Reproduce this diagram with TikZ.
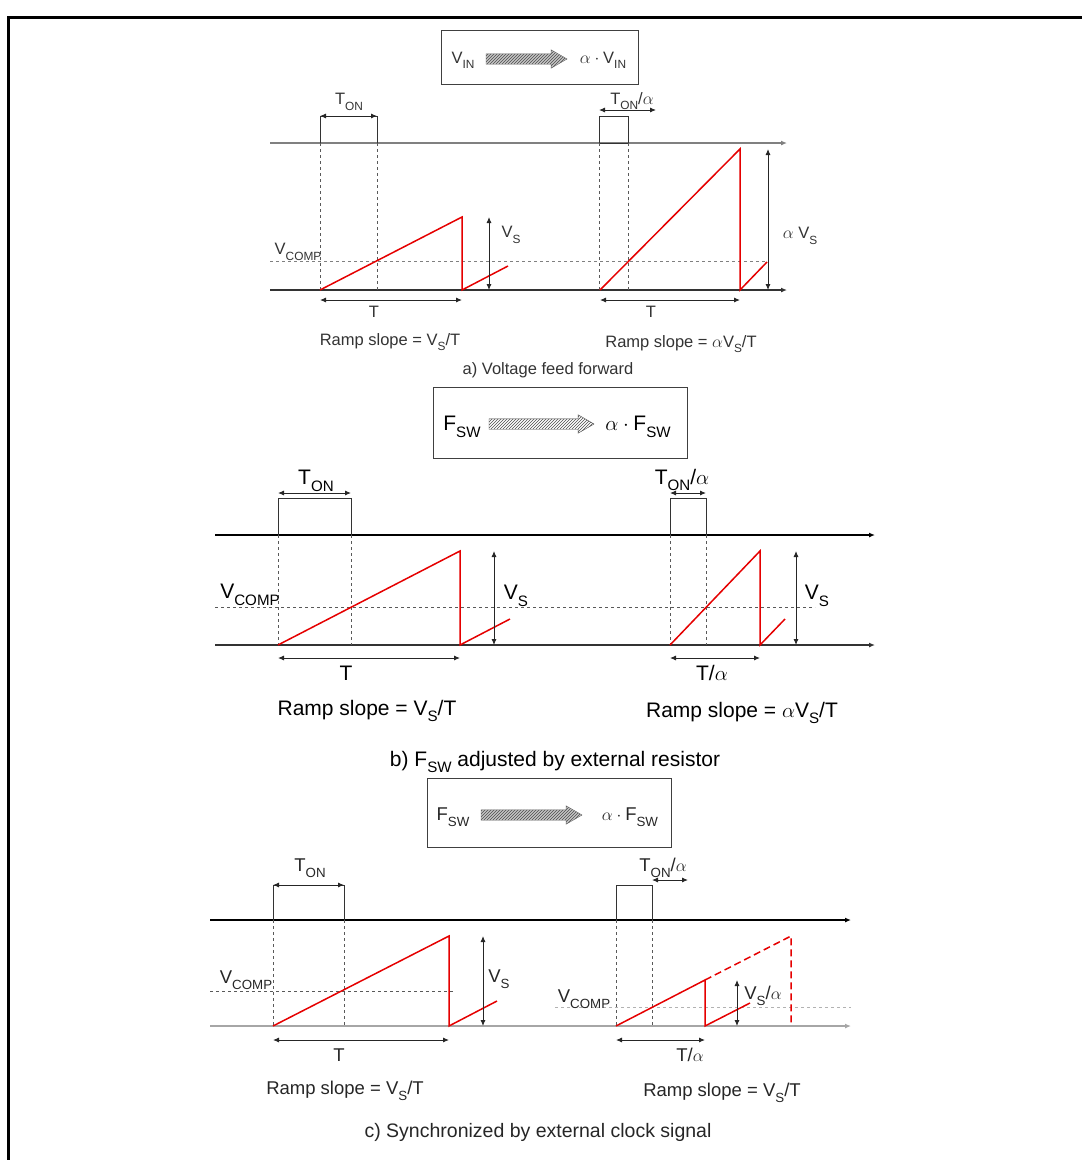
\documentclass[tikz,border=0pt]{standalone}
\usepackage{fontspec}
\setmainfont{Liberation Sans}
\usepackage{amsmath}
\usetikzlibrary{arrows.meta,positioning,calc,shapes.arrows,patterns}
\newcommand{\sub}[1]{\raisebox{-0.32em}{\scalebox{0.72}{#1}}}

\begin{document}
\begin{tikzpicture}[x=1pt, y=-1pt, >={Latex[length=6pt,width=5pt]},
  axis/.style={->, line width=1.2pt},
  pulse/.style={line width=1pt, black!80},
  guide/.style={dashed, black!65, line width=0.8pt},
  ramp/.style={red!90!black, line width=1.5pt},
  dim/.style={<->, line width=0.9pt, black!85},
  infobox/.style={draw=black!75, line width=1pt, inner sep=0pt},
  fat/.style={single arrow, draw=black!60, preaction={fill=gray!45},
    pattern=north east lines, pattern color=black!70,
    single arrow tip angle=60, single arrow head extend=4pt,
    inner sep=5pt, anchor=center},
  lbla/.style={inner sep=0pt, text=black!80, font=\fontsize{16.5}{19}\selectfont},
  lblb/.style={inner sep=0pt, font=\fontsize{21}{25}\selectfont},
  lblc/.style={inner sep=0pt, text=black!85, font=\fontsize{18.5}{22}\selectfont}]

\useasboundingbox (0,0) rectangle (1082,1160);

% Frame
\draw[line width=3pt] (8,1162) -- (8,17) -- (1084,17);

%% a) Voltage feed forward
% Box
\node[infobox, minimum width=197pt, minimum height=54pt] (boxa) at (539.5,57) {};
\node[lbla] (vin) at (463,60) {V\sub{IN}};
\node[fat, minimum height=81pt] (fata) at (522,59) {};
\node[lbla] (avin) at (603,60) {$\alpha\cdot{}$V\sub{IN}};

% Axes and pulses
\draw[axis, gray] (270,143) -- (787,143);
\draw[axis, black!80] (270,290) -- (787,290);
\draw[pulse] (320,143) -- (320,116) -- (377,116) -- (377,143);
\draw[pulse] (599,116) rectangle (628,143);
\draw[guide] (320,143) -- (320,290);
\draw[guide] (377,143) -- (377,290);
\draw[guide] (599,143) -- (599,290);
\draw[guide] (628,143) -- (628,290);
\draw[guide, gray] (270,261) -- (767,261);

% Ramps
\draw[ramp] (320,290) -- (462,217) -- (462,290) -- (508,266);
\draw[ramp] (600,290) -- (740,149) -- (740,290) -- (767,262);

% Dimensions
\draw[dim] (320,116) -- (377,116);
\draw[dim] (599,110) -- (656,110);
\draw[dim] (489,217) -- (489,290);
\draw[dim] (768,149) -- (768,290);
\draw[dim] (320,300) -- (462,300);
\draw[dim] (600,300) -- (740,300);

% Labels
\node[lbla] (tona) at (349,102) {T\sub{ON}};
\node[lbla] (tonaa) at (632,101) {T\sub{ON}/$\alpha$};
\node[lbla] (vcompa) at (298,252) {V\sub{COMP}};
\node[lbla] (vsa) at (511,235) {V\sub{S}};
\node[lbla] (avsa) at (800,236) {$\alpha$ V\sub{S}};
\node[lbla] (ta) at (374,312) {T};
\node[lbla] (taa) at (651,312) {T};
\node[lbla] (slopea) at (390,342) {Ramp slope = V\sub{S}/T};
\node[lbla] (slopeaa) at (681,344) {Ramp slope = $\alpha$V\sub{S}/T};
\node[lbla] (capa) at (548,370) {a) Voltage feed forward};

%% b) Fsw adjusted by external resistor
% Box
\node[infobox, minimum width=254pt, minimum height=71pt] (boxb) at (560,422.5) {};
\node[lblb] (fswb) at (462,427) {F\sub{SW}};
\node[fat, minimum height=105pt, preaction={fill=white}, draw=black!70] (fatb) at (537,424) {};
\node[lblb] (afswb) at (638,427) {$\alpha\cdot{}$F\sub{SW}};

% Axes and pulses
\draw[axis] (215,535) -- (875,535);
\draw[axis, black!80] (215,645) -- (875,645);
\draw[pulse] (278,535) -- (278,498) -- (351,498) -- (351,535);
\draw[pulse] (670,535) -- (670,498) -- (706,498) -- (706,535);
\draw[guide] (278,535) -- (278,645);
\draw[guide] (351,535) -- (351,645);
\draw[guide] (670,535) -- (670,645);
\draw[guide] (706,535) -- (706,645);
\draw[guide] (215,607) -- (815,607);

% Ramps
\draw[ramp] (278,645) -- (460,551) -- (460,645) -- (510,619);
\draw[ramp] (670,645) -- (760,551) -- (760,645) -- (785,619);

% Dimensions
\draw[dim] (278,493) -- (351,493);
\draw[dim] (670,493) -- (706,493);
\draw[dim] (494,551) -- (494,645);
\draw[dim] (796,551) -- (796,645);
\draw[dim] (278,658) -- (460,658);
\draw[dim] (670,658) -- (760,658);

% Labels
\node[lblb] (tonb) at (316,481) {T\sub{ON}};
\node[lblb] (tonab) at (682,480) {T\sub{ON}/$\alpha$};
\node[lblb] (vcompb) at (250,595) {V\sub{COMP}};
\node[lblb] (vsb) at (516,596) {V\sub{S}};
\node[lblb] (vsbb) at (817,596) {V\sub{S}};
\node[lblb] (tb) at (346,673) {T};
\node[lblb] (tab) at (712,673) {T/$\alpha$};
\node[lblb] (slopeb) at (367,711) {Ramp slope = V\sub{S}/T};
\node[lblb] (slopebb) at (742,713) {Ramp slope = $\alpha$V\sub{S}/T};
\node[lblb] (capb) at (555,762) {b) F\sub{SW} adjusted by external resistor};

%% c) Synchronized by external clock signal
% Box
\node[infobox, minimum width=244pt, minimum height=69pt] (boxc) at (549,812.5) {};
\node[lblc] (fswc) at (453,817) {F\sub{SW}};
\node[fat, minimum height=101pt] (fatc) at (527,815) {};
\node[lblc] (afswc) at (630,817) {$\alpha\cdot{}$F\sub{SW}};

% Axes and pulses
\draw[axis] (210,920) -- (851,920);
\draw[axis, gray!70] (210,1026) -- (851,1026);
\draw[pulse] (273,920) -- (273,885) -- (344,885) -- (344,920);
\draw[pulse] (616,920) -- (616,885) -- (652,885) -- (652,920);
\draw[guide] (273,920) -- (273,1026);
\draw[guide] (344,920) -- (344,1026);
\draw[guide] (616,920) -- (616,1026);
\draw[guide] (652,920) -- (652,1026);
\draw[guide] (210,991) -- (453,991);
\draw[guide, gray!60] (555,1007) -- (851,1007);

% Ramps
\draw[ramp] (273,1026) -- (449,936) -- (449,1026) -- (497,1001);
\draw[ramp] (616,1026) -- (705,980) -- (705,1026) -- (750,1003);
\draw[ramp, dashed, dash pattern=on 7pt off 4pt] (705,980) -- (791,936) -- (791,1026);

% Dimensions
\draw[dim] (273,885) -- (344,885);
\draw[dim] (652,880) -- (688,880);
\draw[dim] (483,936) -- (483,1026);
\draw[dim] (737,980) -- (737,1026);
\draw[dim] (273,1040) -- (449,1040);
\draw[dim] (616,1040) -- (705,1040);

% Labels
\node[lblc] (tonc) at (310,868) {T\sub{ON}};
\node[lblc] (tonac) at (663,868) {T\sub{ON}/$\alpha$};
\node[lblc] (vcompc) at (246,980) {V\sub{COMP}};
\node[lblc] (vcompcc) at (584,999) {V\sub{COMP}};
\node[lblc] (vsc) at (499,979) {V\sub{S}};
\node[lblc] (vsac) at (763,996) {V\sub{S}/$\alpha$};
\node[lblc] (tc) at (339,1055) {T};
\node[lblc] (tac) at (690,1055) {T/$\alpha$};
\node[lblc] (slopec) at (345,1091) {Ramp slope = V\sub{S}/T};
\node[lblc] (slopecc) at (722,1093) {Ramp slope = V\sub{S}/T};
\node[lblc, font=\fontsize{19.5}{23}\selectfont] (capc) at (538,1132) {c) Synchronized by external clock signal};

\end{tikzpicture}
\end{document}
